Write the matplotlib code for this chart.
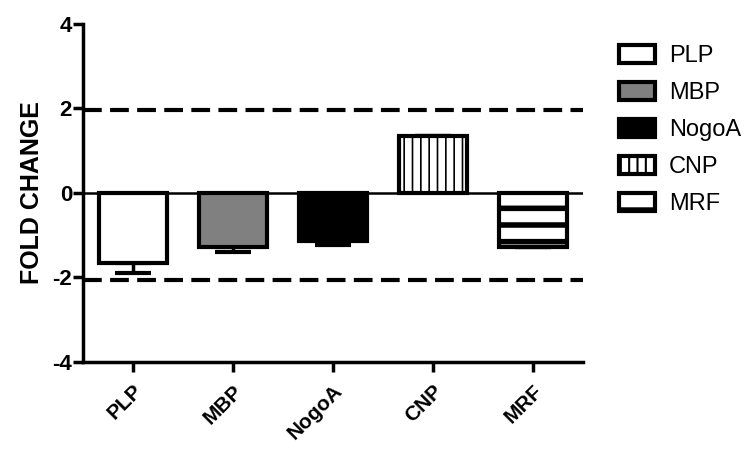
import matplotlib.pyplot as plt
import numpy as np

plt.rcParams['font.family'] = ['Liberation Sans', 'DejaVu Sans']
plt.rcParams['hatch.linewidth'] = 1.5
plt.rcParams['axes.unicode_minus'] = False

genes = ["PLP", "MBP", "NogoA", "CNP", "MRF"]
fold_change = [-1.65, -1.28, -1.13, 1.35, -1.28]
err_low = [0.25, 0.11, 0.11, 0.0, 0.0]
colors = ["white", "#808080", "black", "white", "white"]
hatches = ["", "", "", "||", "-"]
thresholds = [1.96, -2.06]

fig = plt.figure(figsize=(7.56, 4.5), dpi=100)
ax = fig.add_axes([0.11, 0.196, 0.661, 0.751])

x = np.arange(len(genes))
bars = ax.bar(x, fold_change, width=0.68, color=colors, edgecolor="black",
              linewidth=3, zorder=3)
for b, h in zip(bars, hatches):
    b.set_hatch(h)
    if h == "-" and hasattr(b, "set_hatch_linewidth"):
        b.set_hatch_linewidth(4)
    if h == "||" and hasattr(b, "set_hatch_linewidth"):
        b.set_hatch_linewidth(1.2)

ax.errorbar(x, fold_change, yerr=[err_low, [0] * len(x)], fmt="none",
            ecolor="black", elinewidth=2.5, capsize=13, capthick=3, zorder=2)

ax.axhline(0, color="black", lw=1.8, zorder=4)
for t in thresholds:
    ax.axhline(t, color="black", lw=3, dashes=(4.5, 2), zorder=1)

ax.set_xlim(-0.5, 4.5)
ax.set_ylim(-4, 4)
ax.set_yticks([-4, -2, 0, 2, 4])
ax.set_xticks(x)
ax.set_xticklabels(genes, rotation=45, ha="right", rotation_mode="anchor",
                   fontsize=15, fontweight="bold")
for lab in ax.get_yticklabels():
    lab.set_fontsize(16)
    lab.set_fontweight("bold")
ax.set_ylabel("FOLD CHANGE", fontsize=18, fontweight="bold", labelpad=6)

for s in ["top", "right"]:
    ax.spines[s].set_visible(False)
for s in ["left", "bottom"]:
    ax.spines[s].set_linewidth(2.5)
ax.tick_params(axis="both", width=2.5, length=7)
ax.tick_params(axis="y", pad=1)
ax.tick_params(axis="x", pad=7)

leg = ax.legend(bars, genes, loc="upper left", bbox_to_anchor=(1.03, 1.0),
                frameon=False, fontsize=17, handlelength=1.5, handleheight=0.8,
                labelspacing=0.62, handletextpad=0.6)

fig.savefig("out.png", dpi=100)
